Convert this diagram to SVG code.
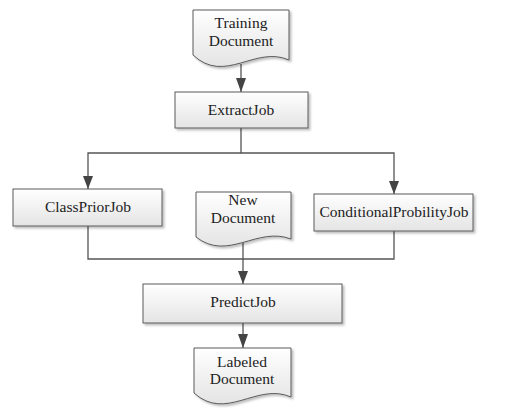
<svg xmlns="http://www.w3.org/2000/svg" width="515" height="413" viewBox="0 0 515 413">
<style>
.box{fill:url(#g);stroke:#5a5a5a;stroke-width:1;filter:url(#sh)}
.t{font-family:"Liberation Serif","Times New Roman",serif;font-size:15.5px;fill:#222;text-anchor:middle}
.c{fill:none;stroke:#555;stroke-width:1.3}
</style>
<defs>
<linearGradient id="g" x1="0" y1="0" x2="0" y2="1">
<stop offset="0" stop-color="#ffffff"/>
<stop offset="1" stop-color="#e4e4e4"/>
</linearGradient>
<filter id="sh" x="-10%" y="-10%" width="130%" height="140%">
<feDropShadow dx="2" dy="2" stdDeviation="1.2" flood-color="#000" flood-opacity="0.25"/>
</filter>
</defs>
<g id="connectors">
<line class="c" x1="241" y1="64" x2="241" y2="92"/>
<path class="c" d="M241,128 V153 H88 V189"/>
<path class="c" d="M241,153 H394 V194"/>
<path class="c" d="M88,226 V259 H394 V231"/>
<line class="c" x1="243" y1="243" x2="243" y2="284"/>
<line class="c" x1="243" y1="323" x2="243" y2="348"/>
<path d="M236,78 L246,78 L241,92 Z" fill="#444"/>
<path d="M83,176 L93,176 L88,189 Z" fill="#444"/>
<path d="M389,181 L399,181 L394,194 Z" fill="#444"/>
<path d="M238,271 L248,271 L243,284 Z" fill="#444"/>
<path d="M238,334 L248,334 L243,348 Z" fill="#444"/>
</g>
<g id="training">
<path class="box" d="M193,10 H289 V60 C255,45 225,85 193,55 Z"/>
<text class="t" x="241" y="28">Training</text>
<text class="t" x="241" y="46">Document</text>
</g>
<g id="extract">
<rect class="box" x="175" y="92" width="133" height="36"/>
<text class="t" x="241" y="115">ExtractJob</text>
</g>
<g id="classprior">
<rect class="box" x="13" y="189" width="149" height="37"/>
<text class="t" x="88" y="212">ClassPriorJob</text>
</g>
<g id="newdoc">
<path class="box" d="M196,192 H291 V239 C257,226 228,262 196,237 Z"/>
<text class="t" x="243" y="205">New</text>
<text class="t" x="243" y="223">Document</text>
</g>
<g id="conditional">
<rect class="box" x="314" y="194" width="159" height="37"/>
<text class="t" x="394" y="217">ConditionalProbilityJob</text>
</g>
<g id="predict">
<rect class="box" x="143" y="284" width="199" height="39"/>
<text class="t" x="243" y="307">PredictJob</text>
</g>
<g id="labeled">
<path class="box" d="M194,348 H291 V397 C257,382 226,422 194,393 Z"/>
<text class="t" x="242" y="367">Labeled</text>
<text class="t" x="242" y="384">Document</text>
</g>
</svg>
